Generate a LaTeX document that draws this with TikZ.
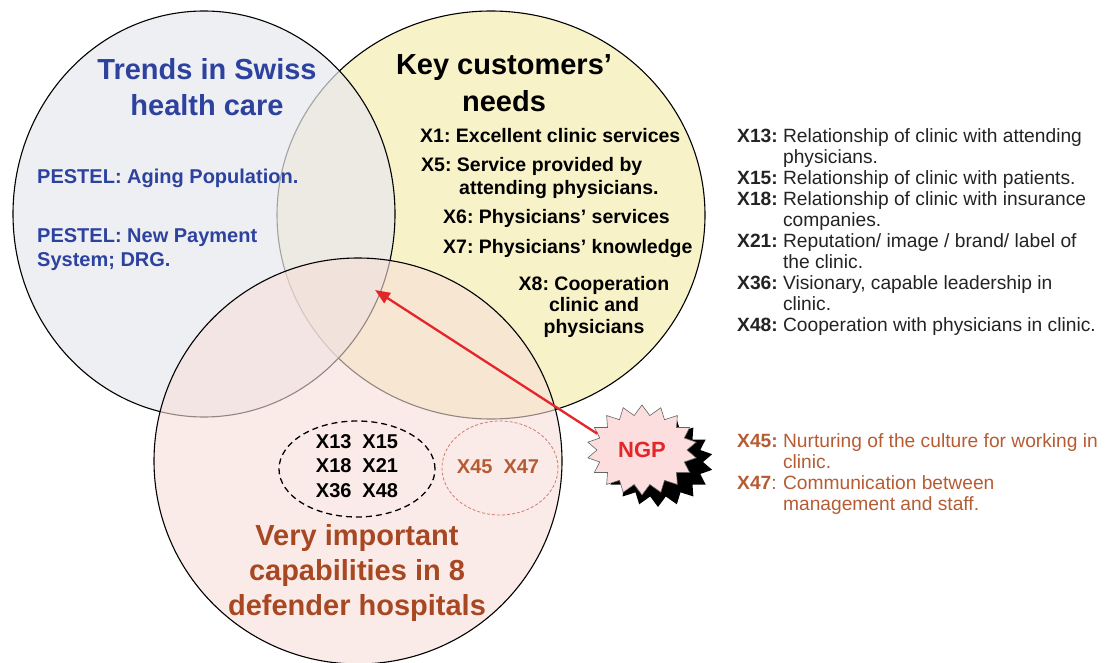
\documentclass[tikz,border=0pt]{standalone}
\usepackage{fontspec}
\setmainfont{Liberation Sans}
\usepackage{tikz}
\usetikzlibrary{
    arrows.meta,
    shapes.symbols,
    shadows
}
\frenchspacing

\definecolor{trendblue}{RGB}{44,66,158}
\definecolor{capbrown}{RGB}{168,72,34}
\definecolor{listbrown}{RGB}{182,92,52}
\definecolor{needyellow}{RGB}{248,242,200}
\definecolor{trendgray}{RGB}{231,232,238}
\definecolor{cappink}{RGB}{247,222,217}
\definecolor{ngpred}{RGB}{228,38,42}
\definecolor{ngppink}{RGB}{251,222,221}
\definecolor{setbrown}{RGB}{205,125,105}
\definecolor{listgray}{RGB}{35,35,35}

\begin{document}
\begin{tikzpicture}[x=1pt, y=-1pt,
    ring/.style={draw=black, line width=1.1pt},
    bigtext/.style={font=\fontsize{29}{36}\selectfont\bfseries, inner sep=0pt, anchor=base},
    needtext/.style={font=\fontsize{19.5}{23}\selectfont\bfseries, inner sep=0pt, anchor=base west},
    trendtext/.style={font=\fontsize{20}{24}\selectfont\bfseries, text=trendblue, inner sep=0pt, anchor=base west},
    settext/.style={font=\fontsize{20}{24.5}\selectfont\bfseries, inner sep=0pt, anchor=base},
    keytext/.style={font=\fontsize{19.2}{21}\selectfont, inner sep=0pt, anchor=base west},
    ngpburst/.style={starburst, starburst points=18, starburst point height=10pt,
        random starburst=0, draw=gray!80!black, line width=0.6pt, fill=ngppink,
        minimum width=110pt, minimum height=90pt, inner sep=0pt, text=ngpred,
        font=\fontsize{22}{22}\selectfont\bfseries,
        drop shadow={shadow xshift=16pt, shadow yshift=-12pt, fill=black, opacity=1}},
    ngparrow/.style={draw=ngpred, line width=2.3pt, -{Triangle[length=15pt, width=12pt]}}
]
\useasboundingbox (0,0) rectangle (1116,663);

% the three circles
\draw[ring, fill=needyellow] (491,215) ellipse [x radius=214pt, y radius=204pt];
\draw[ring, fill=trendgray, fill opacity=0.7] (204,214) ellipse [x radius=191pt, y radius=203pt];
\draw[ring, fill=cappink, fill opacity=0.6] (358,461) ellipse [x radius=204pt, y radius=203pt];

% sets of capabilities
\draw[black, line width=1.3pt, dash pattern=on 6pt off 4pt] (357,469) ellipse [x radius=78pt, y radius=48pt];
\draw[setbrown, line width=0.8pt, dash pattern=on 3pt off 2pt] (500,468) ellipse [x radius=58pt, y radius=47pt];

% trends
\node[bigtext, text=trendblue] (trends) at (207,80) {\begin{tabular}[t]{@{}c@{}}Trends in Swiss\\health care\end{tabular}};
\node[trendtext] (aging) at (37,184) {PESTEL: Aging Population.};
\node[trendtext] (payment) at (37,243) {\begin{tabular}[t]{@{}l@{}}PESTEL: New Payment\\System; DRG.\end{tabular}};

% customers
\node[bigtext] (needs) at (504,75) {\begin{tabular}[t]{@{}c@{}}Key customers’\\[1pt]needs\end{tabular}};
\node[needtext] (x1) at (420,143) {X1: Excellent clinic services};
\node[needtext] (x5) at (421,172) {\begin{tabular}[t]{@{}l@{}}X5: Service provided by\\\hspace*{38pt}attending physicians.\end{tabular}};
\node[needtext] (x6) at (443,223) {X6: Physicians’ services};
\node[needtext] (x7) at (443,253) {X7: Physicians’ knowledge};
\node[needtext, anchor=base, font=\fontsize{19.5}{21.5}\selectfont\bfseries] (x8) at (594,290)
    {\begin{tabular}[t]{@{}c@{}}X8: Cooperation\\clinic and\\physicians\end{tabular}};

% capabilities
\node[settext] (coreset) at (357,448) {\begin{tabular}[t]{@{}l@{\hspace{11pt}}l@{}}X13 & X15\\X18 & X21\\X36 & X48\end{tabular}};
\node[settext, text=listbrown] (ngpset) at (498,473) {X45\hspace{11pt}X47};
\node[bigtext, text=capbrown, font=\fontsize{29}{35}\selectfont\bfseries] (caps) at (357,545)
    {\begin{tabular}[t]{@{}c@{}}Very important\\capabilities in 8\\defender hospitals\end{tabular}};

% NGP
\node[ngpburst] (ngp) at (642,450) {NGP};
\coordinate (focus) at (375,290);
\draw[ngparrow] (ngp.160) -- (focus);

% legend
\node[keytext, text=listgray] (corelist) at (737,143) {\begin{tabular}[t]{@{}l@{\ }l@{}}
    \textbf{X13:} & Relationship of clinic with attending\\
     & physicians.\\
    \textbf{X15:} & Relationship of clinic with patients.\\
    \textbf{X18:} & Relationship of clinic with insurance\\
     & companies.\\
    \textbf{X21:} & Reputation/ image / brand/ label of\\
     & the clinic.\\
    \textbf{X36:} & Visionary, capable leadership in\\
     & clinic.\\
    \textbf{X48:} & Cooperation with physicians in clinic.
\end{tabular}};
\node[keytext, text=listbrown] (ngplist) at (737,447) {\begin{tabular}[t]{@{}l@{\ }l@{}}
    \textbf{X45:} & Nurturing of the culture for working in\\
     & clinic.\\
    \textbf{X47}: & Communication between\\
     & management and staff.
\end{tabular}};
\end{tikzpicture}
\end{document}
